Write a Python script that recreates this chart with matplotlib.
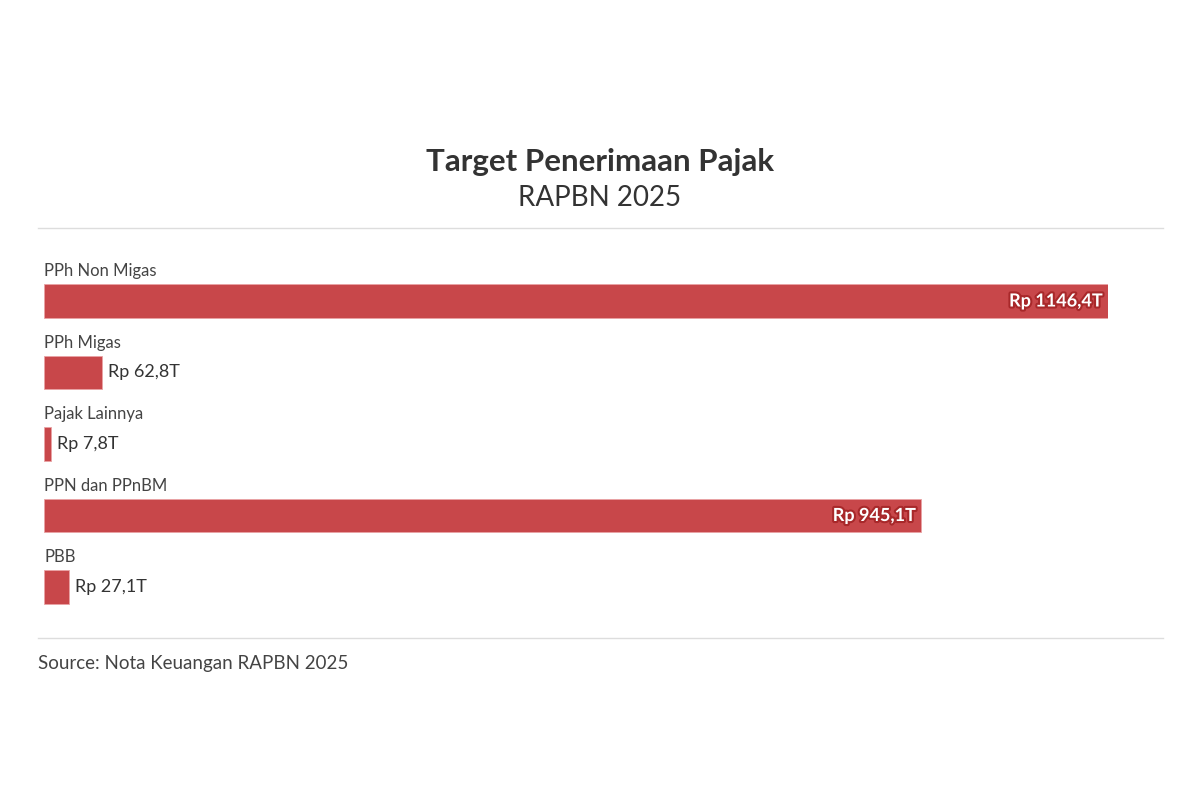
import matplotlib.pyplot as plt
import matplotlib.patheffects as pe
from matplotlib.lines import Line2D

plt.rcParams['font.family'] = ['Lato', 'DejaVu Sans']

categories = ['PPh Non Migas', 'PPh Migas', 'Pajak Lainnya', 'PPN dan PPnBM', 'PBB']
values = [1146.4, 62.8, 7.8, 945.1, 27.1]
value_labels = ['Rp 1146,4T', 'Rp 62,8T', 'Rp 7,8T', 'Rp 945,1T', 'Rp 27,1T']

bar_color = '#c8474a'
W, H = 1200, 800

fig = plt.figure(figsize=(12, 8), dpi=100)
fig.patch.set_facecolor('white')

# axes placed so the longest bar ends at ~x=1108px
ax = fig.add_axes([44 / W, 1 - 620 / H, 1064 / W, 370 / H])
ax.set_xlim(0, max(values))
ax.set_ylim(4 + 33 / 71.5, -51 / 71.5)
ax.axis('off')

bh = 0.475
ys = list(range(len(categories)))
ax.barh(ys, values, height=bh, color=bar_color, edgecolor='#e9a3a4', linewidth=0.6)

for y, cat, v, lab in zip(ys, categories, values, value_labels):
    ax.text(0, y - bh / 2 - 0.07, cat, ha='left', va='bottom', fontsize=12, color='#444444')
    if v > 500:
        t = ax.text(v - 6, y, lab, ha='right', va='center', fontsize=13, fontweight='bold',
                    color='white')
        t.set_path_effects([pe.withStroke(linewidth=3, foreground='#a8282a')])
    else:
        ax.text(v + 6, y, lab, ha='left', va='center', fontsize=13, color='#333333')

fig.text(600 / W, 1 - 162 / H, 'Target Penerimaan Pajak', ha='center', va='center',
         fontsize=22.5, fontweight='bold', color='#333333')
fig.text(600 / W, 1 - 198 / H, 'RAPBN 2025', ha='center', va='center',
         fontsize=20, color='#333333')

for yy in (228, 638):
    fig.add_artist(Line2D([38 / W, 1163 / W], [1 - yy / H, 1 - yy / H],
                          color='#dddddd', linewidth=1))

fig.text(38 / W, 1 - 663 / H, 'Source: Nota Keuangan RAPBN 2025', ha='left', va='center',
         fontsize=13.5, color='#444444')

fig.savefig('out.png', dpi=100, facecolor='white')
